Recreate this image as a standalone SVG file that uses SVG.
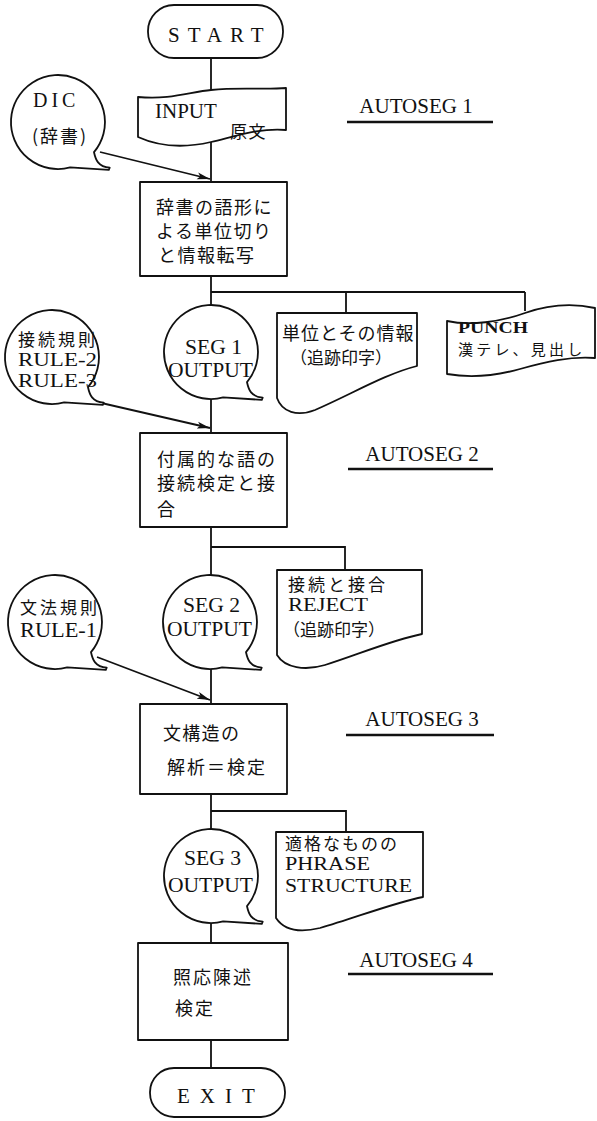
<svg xmlns="http://www.w3.org/2000/svg" xmlns:xlink="http://www.w3.org/1999/xlink" width="597" height="1121" viewBox="0 0 597 1121">
<style>
.sh{fill:#fff;stroke:#111;stroke-width:1.8;stroke-linejoin:round}
.ln{fill:none;stroke:#111;stroke-width:1.8}
.ul{fill:none;stroke:#111;stroke-width:2.5}
.jp{font-family:"Noto Sans CJK JP","Noto Sans CJK SC",sans-serif;font-size:18px;letter-spacing:1.5px;fill:#111}
.lat{font-family:"Liberation Serif",serif;font-size:22px;fill:#111}
.st{font-size:19px}
.lbl{font-family:"Liberation Serif",serif;font-size:21px;fill:#111;text-anchor:middle}
.mid{text-anchor:middle}
</style>
<defs>
<marker id="ah" markerUnits="userSpaceOnUse" markerWidth="14" markerHeight="8" refX="13" refY="4" orient="auto">
<path d="M0,0.5 L13,4 L0,7.5 L3,4 Z" fill="#111"/>
</marker>
<path id="tc" d="M12.2,45.4 A47,47 0 1 1 36,30.2 C37.6,37.6 40,44.7 51.7,45.6 L50.8,47.9 Z"/>
</defs>

<g id="connectors">
<path class="ln" d="M211,58 V90"/>
<path class="ln" d="M211,141 V182"/>
<path class="ln" d="M211,276 V305"/>
<path class="ln" d="M211,292 H525 M346,292 V313 M525,292 V311"/>
<path class="ln" d="M211,399 V433"/>
<path class="ln" d="M211,527 V575"/>
<path class="ln" d="M211,547 H345 V570"/>
<path class="ln" d="M211,669 V704"/>
<path class="ln" d="M211,794 V829"/>
<path class="ln" d="M211,811 H346 V832"/>
<path class="ln" d="M211,923 V943"/>
<path class="ln" d="M211,1040 V1068"/>
<path class="ln" d="M100,152 L210,179" marker-end="url(#ah)"/>
<path class="ln" d="M97,402 L210,428" marker-end="url(#ah)"/>
<path class="ln" d="M97,657 L210,700" marker-end="url(#ah)"/>
</g>

<g id="start">
<rect class="sh" x="148" y="5" width="135" height="53" rx="26"/>
<text class="lat" x="168" y="42" style="font-size:21px;letter-spacing:8px">START</text>
</g>

<g id="input">
<path class="sh" d="M138,97 C170,100 190,92 211,90 C240,87 265,90 286,88 V130 C260,128 240,135 211,142 C185,148 160,147 138,137 Z"/>
<text class="lat" x="155" y="118" style="font-size:21px">INPUT</text>
<text class="jp" x="230" y="138" style="font-size:17px">原文</text>
</g>

<g id="dic">
<use href="#tc" class="sh" x="58" y="122"/>
<text class="lat" x="33" y="107" style="font-size:20px;letter-spacing:4px">DIC</text>
<text class="jp" x="32" y="143" style="letter-spacing:2px">(辞書)</text>
</g>

<g id="autoseg1">
<text class="lbl" x="416" y="113">AUTOSEG 1</text>
<path class="ul" d="M347,122 H493"/>
</g>

<g id="box1">
<rect class="sh" x="140" y="182" width="147" height="94"/>
<text class="jp" x="156" y="214">辞書の語形に</text>
<text class="jp" x="156" y="238">よる単位切り</text>
<text class="jp" x="158" y="262">と情報転写</text>
</g>

<g id="rule23">
<use href="#tc" class="sh" x="52" y="357"/>
<text class="jp" x="18" y="346" style="font-size:17px;letter-spacing:3px">接続規則</text>
<text class="lat st" x="18" y="366" textLength="79" lengthAdjust="spacingAndGlyphs">RULE-2</text>
<text class="lat st" x="18" y="387" textLength="79" lengthAdjust="spacingAndGlyphs">RULE-3</text>
</g>

<g id="seg1">
<use href="#tc" class="sh" x="211" y="352"/>
<text class="lat" x="185" y="354" style="font-size:20px" textLength="57" lengthAdjust="spacingAndGlyphs">SEG 1</text>
<text class="lat" x="168" y="377" style="font-size:20px" textLength="85" lengthAdjust="spacingAndGlyphs">OUTPUT</text>
</g>

<g id="doc1">
<path class="sh" d="M277,313 H417 V366 C385,374 350,395 315,410 C297,417 282,412 277,398 Z"/>
<text class="jp" x="282" y="340" style="letter-spacing:1px">単位とその情報</text>
<text class="jp" x="290" y="364" style="font-size:17px;letter-spacing:0">（追跡印字）</text>
</g>

<g id="punch">
<path class="sh" d="M447,321 C470,326 500,322 525,313 C548,305 572,303 595,308 V358 C570,356 545,362 520,369 C495,376 470,378 447,374 Z"/>
<text class="lat" x="458" y="333" style="font-size:17px;font-weight:bold" textLength="70" lengthAdjust="spacingAndGlyphs">PUNCH</text>
<text class="jp" x="458" y="355" style="font-size:15px;letter-spacing:3.2px">漢テレ、見出し</text>
</g>

<g id="autoseg2">
<text class="lbl" x="422" y="461">AUTOSEG 2</text>
<path class="ul" d="M348,469 H493"/>
</g>

<g id="box2">
<rect class="sh" x="140" y="433" width="147" height="94"/>
<text class="jp" x="157" y="466" style="letter-spacing:2px">付属的な語の</text>
<text class="jp" x="157" y="490" style="letter-spacing:2px">接続検定と接</text>
<text class="jp" x="157" y="516">合</text>
</g>

<g id="rule1">
<use href="#tc" class="sh" x="55" y="622"/>
<text class="jp" x="20" y="614" style="font-size:17px;letter-spacing:3px">文法規則</text>
<text class="lat" x="20" y="637" style="font-size:20px" textLength="77" lengthAdjust="spacingAndGlyphs">RULE-1</text>
</g>

<g id="seg2">
<use href="#tc" class="sh" x="210" y="622"/>
<text class="lat" x="183" y="612" style="font-size:20px" textLength="57" lengthAdjust="spacingAndGlyphs">SEG 2</text>
<text class="lat" x="167" y="636" style="font-size:20px" textLength="85" lengthAdjust="spacingAndGlyphs">OUTPUT</text>
</g>

<g id="doc2">
<path class="sh" d="M277,570 H422 V634 C392,640 357,655 325,665 C305,671 285,668 277,655 Z"/>
<text class="jp" x="288" y="591" style="font-size:17px;letter-spacing:3px">接続と接合</text>
<text class="lat" x="288" y="611" style="font-size:19px" textLength="80" lengthAdjust="spacingAndGlyphs">REJECT</text>
<text class="jp" x="283" y="636" style="font-size:17px;letter-spacing:0">（追跡印字）</text>
</g>

<g id="autoseg3">
<text class="lbl" x="422" y="726">AUTOSEG 3</text>
<path class="ul" d="M346,735 H494"/>
</g>

<g id="box3">
<rect class="sh" x="140" y="704" width="147" height="90"/>
<text class="jp" x="163" y="740" style="letter-spacing:1.3px">文構造の</text>
<text class="jp" x="167" y="774" style="letter-spacing:2px">解析＝検定</text>
</g>

<g id="seg3">
<use href="#tc" class="sh" x="211" y="876"/>
<text class="lat" x="184" y="865" style="font-size:20px" textLength="57" lengthAdjust="spacingAndGlyphs">SEG 3</text>
<text class="lat" x="168" y="892" style="font-size:20px" textLength="85" lengthAdjust="spacingAndGlyphs">OUTPUT</text>
</g>

<g id="doc3">
<path class="sh" d="M276,832 H423 V897 C393,903 355,918 320,928 C300,933 284,930 276,918 Z"/>
<text class="jp" x="285" y="850" style="font-size:17px;letter-spacing:2px">適格なものの</text>
<text class="lat" x="285" y="870" style="font-size:19px" textLength="85" lengthAdjust="spacingAndGlyphs">PHRASE</text>
<text class="lat" x="285" y="891.5" style="font-size:19px" textLength="127" lengthAdjust="spacingAndGlyphs">STRUCTURE</text>
</g>

<g id="autoseg4">
<text class="lbl" x="416" y="967">AUTOSEG 4</text>
<path class="ul" d="M348,974 H493"/>
</g>

<g id="box4">
<rect class="sh" x="138" y="943" width="150" height="97"/>
<text class="jp" x="173" y="984" style="letter-spacing:2px">照応陳述</text>
<text class="jp" x="175" y="1015" style="letter-spacing:2px">検定</text>
</g>

<g id="exit">
<rect class="sh" x="150" y="1068" width="135" height="49" rx="24"/>
<text class="lat" x="177" y="1103" style="font-size:21px;letter-spacing:10px">EXIT</text>
</g>
</svg>
